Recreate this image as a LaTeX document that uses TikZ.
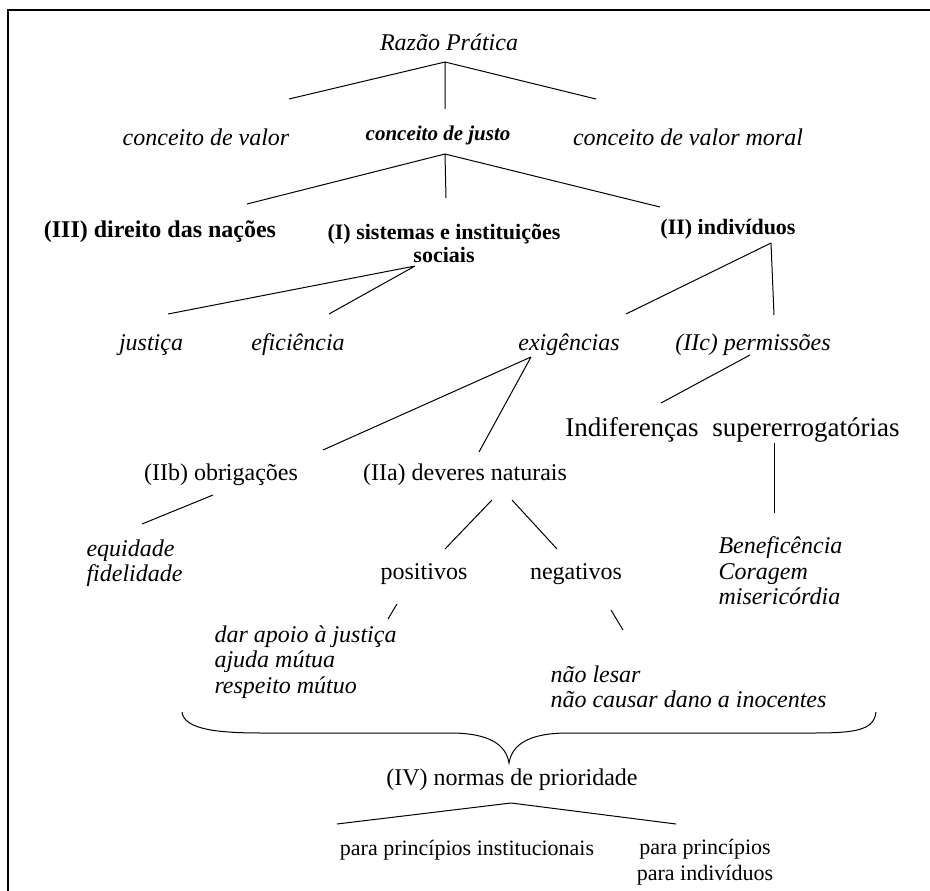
\documentclass[tikz,border=0pt]{standalone}
\usepackage{fontspec}
\setmainfont{Liberation Serif}
\tikzset{every picture/.style={line width=1pt}}
\tikzset{
  rm24/.style={inner sep=0pt, font=\fontsize{24}{25.5}\selectfont},
  rm27/.style={inner sep=0pt, font=\fontsize{27}{28}\selectfont},
  rm22/.style={inner sep=0pt, font=\fontsize{22}{26}\selectfont},
  it24/.style={inner sep=0pt, align=left, font=\fontsize{24}{25.5}\selectfont\itshape},
  bf24/.style={inner sep=0pt, font=\fontsize{24}{25.5}\selectfont\bfseries},
  bf22/.style={inner sep=0pt, align=center, font=\fontsize{22}{23}\selectfont\bfseries},
  bfit21/.style={inner sep=0pt, font=\fontsize{21}{22}\selectfont\bfseries\itshape},
}

\begin{document}
\begin{tikzpicture}[x=1pt,y=1pt,yscale=-1]
	\useasboundingbox (0,0) rectangle (930,891);

	%Frame
	\coordinate (fr0) at (930,10);
	\coordinate (fr1) at (8,10);
	\coordinate (fr2) at (8,891);
	\draw [line width=1.6pt] (fr0) -- (fr1) -- (fr2);

	% Text Node
	\node [it24] (razao) at (449,42) {Razão Prática};
	% Text Node
	\node [it24] (valor) at (206,137) {conceito de valor};
	% Text Node
	\node [bfit21] (justo) at (438,135) {conceito de justo};
	% Text Node
	\node [it24] (moral) at (688,137) {conceito de valor moral};
	% Text Node
	\node [bf24] (nacoes) at (160,232) {(III) direito das nações};
	% Text Node
	\node [bf22] (sistemas) at (444,243) {(I) sistemas e instituições\\sociais};
	% Text Node
	\node [bf22] (individuos) at (728,229) {(II) indivíduos};
	% Text Node
	\node [it24] (justica) at (151,345) {justiça};
	% Text Node
	\node [it24] (eficiencia) at (298,345) {eficiência};
	% Text Node
	\node [it24] (exigencias) at (569,345) {exigências};
	% Text Node
	\node [it24] (permissoes) at (753,345) {(IIc) permissões};
	% Text Node
	\node [rm27] (indif) at (632,430) {Indiferenças};
	% Text Node
	\node [rm27] (superr) at (806,430) {supererrogatórias};
	% Text Node
	\node [rm24] (obrig) at (221,475) {(IIb) obrigações};
	% Text Node
	\node [rm24] (deveres) at (465,475) {(IIa) deveres naturais};
	% Text Node
	\node [it24, anchor=west] (equidade) at (86,563) {equidade\\fidelidade};
	% Text Node
	\node [it24, anchor=west] (benef) at (718,571) {Beneficência\\Coragem\\misericórdia};
	% Text Node
	\node [rm24] (positivos) at (424,574) {positivos};
	% Text Node
	\node [rm24] (negativos) at (576,574) {negativos};
	% Text Node
	\node [it24, anchor=west] (apoio) at (214,662) {dar apoio à justiça\\ajuda mútua\\respeito mútuo};
	% Text Node
	\node [it24, anchor=west] (lesar) at (550,687) {não lesar\\não causar dano a inocentes};
	% Text Node
	\node [rm24] (normas) at (512,780) {(IV) normas de prioridade};
	% Text Node
	\node [rm22] (institucionais) at (467,850) {para princípios institucionais};
	% Text Node
	\node [rm22, align=center] (paraind) at (705,862) {para princípios\\para indivíduos};

	%Straight Lines
	\coordinate (a0) at (445,62);
	\coordinate (a1) at (289,99);
	\coordinate (a2) at (445,109);
	\coordinate (a3) at (596,99);
	\draw (a0) -- (a1) (a0) -- (a2) (a0) -- (a3);
	%Straight Lines
	\coordinate (b0) at (445,154);
	\coordinate (b1) at (247,204);
	\coordinate (b2) at (446,198);
	\coordinate (b3) at (660,207);
	\draw (b0) -- (b1) (b0) -- (b2) (b0) -- (b3);
	%Straight Lines
	\coordinate (c0) at (415,266);
	\coordinate (c1) at (168,314);
	\coordinate (c2) at (329,314);
	\draw (c0) -- (c1) (c0) -- (c2);
	%Straight Lines
	\coordinate (d0) at (771,243);
	\coordinate (d1) at (626,314);
	\coordinate (d2) at (774,315);
	\draw (d0) -- (d1) (d0) -- (d2);
	%Straight Lines
	\coordinate (e0) at (531,357);
	\coordinate (e1) at (323,450);
	\coordinate (e2) at (479,452);
	\draw (e0) -- (e1) (e0) -- (e2);
	%Straight Lines
	\coordinate (f0) at (750,355);
	\coordinate (f1) at (661,403);
	\draw (f0) -- (f1);
	%Straight Lines
	\coordinate (g0) at (774,443);
	\coordinate (g1) at (774,513);
	\draw (g0) -- (g1);
	%Straight Lines
	\coordinate (h0) at (213,495);
	\coordinate (h1) at (142,524);
	\draw (h0) -- (h1);
	%Straight Lines
	\coordinate (k0) at (492,500);
	\coordinate (k1) at (445,549);
	\coordinate (k2) at (512,500);
	\coordinate (k3) at (557,549);
	\draw (k0) -- (k1) (k2) -- (k3);
	%Straight Lines
	\coordinate (m0) at (397,604);
	\coordinate (m1) at (388,619);
	\draw (m0) -- (m1);
	%Straight Lines
	\coordinate (n0) at (611,610);
	\coordinate (n1) at (623,630);
	\draw (n0) -- (n1);

	%Curve Lines (brace)
	\coordinate (br0) at (182,712);
	\coordinate (br1) at (509,763);
	\coordinate (br2) at (876,712);
	\draw (br0) .. controls (184,730) and (220,733) .. (262,733) -- (450,733)
	      .. controls (490,733) and (506,745) .. (br1)
	      .. controls (512,745) and (528,733) .. (568,733) -- (814,733)
	      .. controls (856,733) and (874,730) .. (br2);

	%Straight Lines
	\coordinate (p0) at (511,803);
	\coordinate (p1) at (337,824);
	\coordinate (p2) at (676,824);
	\draw (p0) -- (p1) (p0) -- (p2);

\end{tikzpicture}
\end{document}
